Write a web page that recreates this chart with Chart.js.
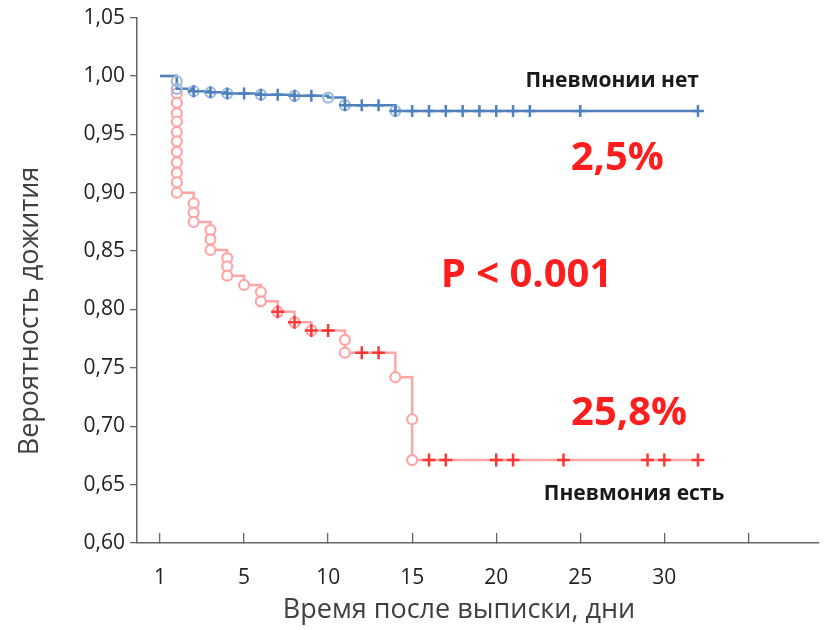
<!DOCTYPE html>
<html>
<head>
<meta charset="utf-8">
<script src="https://cdn.jsdelivr.net/npm/chart.js@4.4.1/dist/chart.umd.min.js"></script>
<style>
    html, body { margin: 0; padding: 0; background: #fff; }
    #wrap { width: 828px; height: 630px; }
</style>
</head>
<body>
<div id="wrap"><canvas id="km" width="828" height="630"></canvas></div>
<script>
// x axis: day 0 is labelled "1", last tick is left blank
const xTickValues = [0, 5, 10, 15, 20, 25, 30, 35];
const xTickLabels = ['1', '5', '10', '15', '20', '25', '30', ''];

// "Пневмонии нет" - step curve (day, survival)
const noPneuDays = [0, 1, 2, 3, 4, 6, 8, 10, 11, 14, 32];
const noPneuSurv = [1.000, 0.989, 0.987, 0.986, 0.985, 0.984, 0.983, 0.9815, 0.975, 0.970, 0.970];
// events (circles)
const noPneuEventDays = [1, 1, 2, 3, 4, 6, 8, 10, 11, 14];
const noPneuEventSurv = [0.9955, 0.989, 0.987, 0.986, 0.985, 0.984, 0.983, 0.9815, 0.975, 0.970];
// censored (crosses)
const noPneuCensDays = [2, 3, 4, 5, 6, 7, 8, 9, 11, 12, 13, 14, 15, 16, 17, 18, 19, 20, 21, 22, 25, 32];
const noPneuCensSurv = [0.987, 0.986, 0.985, 0.985, 0.984, 0.984, 0.983, 0.983, 0.975, 0.975, 0.975, 0.970,
    0.970, 0.970, 0.970, 0.970, 0.970, 0.970, 0.970, 0.970, 0.970, 0.970];

// "Пневмония есть"
const pneuDays = [0, 1, 2, 3, 4, 5, 6, 7, 8, 9, 11, 14, 15, 32];
const pneuSurv = [1.000, 0.900, 0.875, 0.851, 0.829, 0.821, 0.807, 0.798, 0.789, 0.782, 0.763, 0.742, 0.671, 0.671];
const pneuEventDays = [1, 1, 1, 1, 1, 1, 1, 1, 1, 1, 1,
    2, 2, 2, 3, 3, 3, 4, 4, 4, 5, 6, 6, 7, 8, 9, 11, 11, 14, 15, 15];
const pneuEventSurv = [0.985, 0.977, 0.968, 0.961, 0.952, 0.944, 0.935, 0.926, 0.917, 0.909, 0.900,
    0.891, 0.883, 0.875, 0.868, 0.860, 0.851, 0.844, 0.837, 0.829, 0.821, 0.815, 0.807,
    0.798, 0.789, 0.782, 0.774, 0.763, 0.742, 0.706, 0.671];
const pneuCensDays = [7, 8, 9, 10, 12, 13, 16, 17, 20, 21, 24, 29, 30, 32];
const pneuCensSurv = [0.798, 0.789, 0.782, 0.782, 0.763, 0.763, 0.671, 0.671, 0.671, 0.671, 0.671, 0.671, 0.671, 0.671];

const BLUE = 'rgb(79,129,189)';
const BLUE_LIGHT = 'rgb(160,188,222)';
const PINK = 'rgb(255,165,165)';
const RED = 'rgb(255,55,55)';
const FONT = '"Open Sans", "DejaVu Sans", sans-serif';

function pts(xs, ys) {
    return xs.map((x, i) => ({ x: x, y: ys[i] }));
}

// text placed in data coordinates
const notes = [
    { text: 'Пневмонии нет', x: 26.9, y: 0.996, size: 21, color: '#1a1a1a' },
    { text: '2,5%', x: 27.2, y: 0.929, size: 40, color: 'rgb(255,30,30)' },
    { text: 'P < 0.001', x: 21.8, y: 0.829, size: 40, color: 'rgb(255,30,30)' },
    { text: '25,8%', x: 27.9, y: 0.711, size: 40, color: 'rgb(255,30,30)' },
    { text: 'Пневмония есть', x: 28.2, y: 0.642, size: 21, color: '#1a1a1a' }
];

const textPlugin = {
    id: 'kmText',
    afterDraw(chart) {
        const ctx = chart.ctx;
        const xs = chart.scales.x, ys = chart.scales.y;
        ctx.save();
        ctx.textAlign = 'center';
        ctx.textBaseline = 'middle';
        notes.forEach(n => {
            ctx.font = 'bold ' + n.size + 'px ' + FONT;
            ctx.fillStyle = n.color;
            ctx.fillText(n.text, xs.getPixelForValue(n.x), ys.getPixelForValue(n.y));
        });
        // axis titles
        ctx.fillStyle = '#404040';
        ctx.font = '27px ' + FONT;
        ctx.fillText('Время после выписки, дни', 459, 610);
        ctx.translate(30, 311);
        ctx.rotate(-Math.PI / 2);
        ctx.fillText('Вероятность дожития', 0, 0);
        ctx.restore();
    }
};

new Chart(document.getElementById('km'), {
    type: 'line',
    data: {
        datasets: [
            {
                data: pts(noPneuCensDays, noPneuCensSurv),
                showLine: false, pointStyle: 'cross', pointRadius: 6,
                borderColor: BLUE, borderWidth: 2.5, order: 1
            },
            {
                data: pts(noPneuEventDays, noPneuEventSurv),
                showLine: false, pointStyle: 'circle', pointRadius: 5,
                borderColor: BLUE_LIGHT, backgroundColor: 'rgba(255,255,255,0)', pointBorderWidth: 2.2, order: 2
            },
            {
                data: pts(noPneuDays, noPneuSurv),
                stepped: 'before', borderColor: BLUE, borderWidth: 2.5, pointRadius: 0, fill: false, order: 3
            },
            {
                data: pts(pneuCensDays, pneuCensSurv),
                showLine: false, pointStyle: 'cross', pointRadius: 6.5,
                borderColor: RED, borderWidth: 2.5, order: 4
            },
            {
                data: pts(pneuEventDays, pneuEventSurv),
                showLine: false, pointStyle: 'circle', pointRadius: 5,
                borderColor: PINK, backgroundColor: '#fff', pointBorderWidth: 2.2, order: 5
            },
            {
                data: pts(pneuDays, pneuSurv),
                stepped: 'before', borderColor: PINK, borderWidth: 2.5, pointRadius: 0, fill: false, order: 6
            }
        ]
    },
    options: {
        responsive: false,
        animation: false,
        layout: { padding: { top: 17, right: 0, left: 0, bottom: 0 } },
        plugins: {
            legend: { display: false },
            tooltip: { enabled: false }
        },
        scales: {
            x: {
                type: 'linear',
                min: -1.37,
                max: 39.2,
                afterFit(scale) { scale.height = 87; },
                afterBuildTicks(scale) { scale.ticks = xTickValues.map(v => ({ value: v })); },
                grid: {
                    drawOnChartArea: false, drawTicks: true, tickLength: -10,
                    color: '#666', lineWidth: 1.3
                },
                border: { display: true, color: '#666', width: 1.5 },
                ticks: {
                    padding: 32,
                    autoSkip: false,
                    maxRotation: 0,
                    color: '#222',
                    font: { family: FONT, size: 21 },
                    callback: (v, i) => xTickLabels[i]
                }
            },
            y: {
                min: 0.6,
                max: 1.05,
                afterFit(scale) { scale.width = 137; },
                grid: {
                    drawOnChartArea: false, drawTicks: true, tickLength: 7,
                    color: '#666', lineWidth: 1.3
                },
                border: { display: true, color: '#666', width: 1.5 },
                ticks: {
                    stepSize: 0.05,
                    padding: 5,
                    color: '#222',
                    font: { family: FONT, size: 21 },
                    callback: v => v.toFixed(2).replace('.', ',')
                }
            }
        }
    },
    plugins: [textPlugin]
});
</script>
</body>
</html>
